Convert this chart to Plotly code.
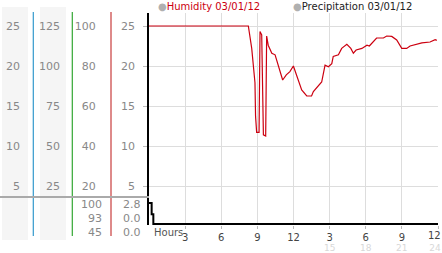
import plotly.graph_objects as go

# ---- data ----
hours = [0, 8.25, 8.53, 8.8, 8.85, 8.94, 9.14, 9.22, 9.36, 9.5, 9.69, 9.77, 9.9, 10.2,
         10.47, 10.74, 11.1, 11.4, 11.7, 11.99, 12.4, 12.68, 13.1, 13.5, 13.65, 14.06,
         14.34, 14.62, 14.9, 15.18, 15.3, 15.73, 16.0, 16.43, 16.76, 16.97, 17.2, 17.68,
         18.1, 18.3, 18.63, 18.9, 19.47, 19.74, 20.16, 20.57, 20.99, 21.4, 21.68, 21.96,
         22.66, 23.34, 23.76, 23.9]
humidity = [25, 25, 22.2, 17.9, 13.7, 11.7, 11.7, 24.3, 23.9, 11.4, 11.25, 23.75, 22.6, 21.6,
            21.4, 20.1, 18.25, 18.9, 19.3, 20.0, 18.25, 17.0, 16.25, 16.25, 16.8, 17.6,
            18.0, 20.1, 19.9, 20.3, 21.2, 21.4, 22.2, 22.7, 22.2, 21.6, 22.0, 22.2,
            22.6, 22.5, 23.0, 23.5, 23.5, 23.75, 23.7, 23.25, 22.2, 22.2, 22.5, 22.6,
            22.9, 23.0, 23.3, 23.2]
precip_hours = [0, 0.22, 0.36, 24]
precip = [2.8, 1.3, 0.0, 0.0]

x_tickvals = [3, 6, 9, 12, 15, 18, 21, 24]
x_ticktext = ["3", "6", "9", "12", "3", "6", "9", "12"]
x_second_vals = [15, 18, 21, 24]
x_second_text = ["15", "18", "21", "24"]
hum_ticks = [5, 10, 15, 20, 25]
col2_ticks = [25, 50, 75, 100, 125]
col3_ticks = [20, 40, 60, 80, 100]
low_col3 = ["100", "93", "45"]
low_col4 = ["2.8", "0.0", "0.0"]

W, H = 442, 253
T, B = 13, 28
PH = H - T - B  # paper height in px


def px(xp):
    return xp / W


def py(yp):
    return (H - B - yp) / PH


FONT = "DejaVu Sans"
top_dom = [py(197), 1]
hum_range = [3.625, 26.625]

fig = go.Figure()
fig.add_trace(go.Scatter(x=hours, y=humidity, mode="lines", line=dict(color="#cc0010", width=1.2),
                         xaxis="x", yaxis="y", showlegend=False, hoverinfo="skip"))
fig.add_trace(go.Scatter(x=precip_hours, y=precip, mode="lines", line=dict(color="#000000", width=2, shape="hv"),
                         xaxis="x", yaxis="y5", showlegend=False, hoverinfo="skip"))
# carrier traces so extra axes render
for ax in ["y2", "y3", "y4"]:
    fig.add_trace(go.Scatter(x=[None], y=[None], xaxis="x", yaxis=ax, showlegend=False, hoverinfo="skip"))

tickfont_y = dict(family=FONT, size=11, color="#888888")
xfont = dict(family=FONT, size=10, color="#444444")
x2font = dict(family=FONT, size=9, color="#d8d8d8")

shapes = []
for x0, x1 in [(2, 28), (40, 66)]:
    shapes.append(dict(type="rect", xref="paper", yref="paper", x0=px(x0), x1=px(x1), y0=py(240), y1=py(7),
                       fillcolor="#f5f5f5", line=dict(width=0), layer="below"))
for xl, col in [(33.3, "#3399cc"), (72.3, "#33a633"), (111, "#c83c3c")]:
    shapes.append(dict(type="line", xref="paper", yref="paper", x0=px(xl), x1=px(xl), y0=py(236), y1=py(12),
                       line=dict(color=col, width=1.2)))
shapes.append(dict(type="line", xref="paper", yref="paper", x0=0, x1=px(149), y0=py(197), y1=py(197),
                   line=dict(color="#aaaaaa", width=2)))

annotations = []
for i, (a, b) in enumerate(zip(low_col3, low_col4)):
    yy = py([204, 218, 232][i])
    annotations.append(dict(xref="paper", yref="paper", x=px(104), y=yy, text=a, showarrow=False,
                            xanchor="right", yanchor="middle", font=tickfont_y))
    annotations.append(dict(xref="paper", yref="paper", x=px(143), y=yy, text=b, showarrow=False,
                            xanchor="right", yanchor="middle", font=tickfont_y))
annotations.append(dict(xref="paper", yref="paper", x=px(152), y=py(232), text="Hours", showarrow=False,
                        xanchor="left", yanchor="middle", font=dict(family=FONT, size=10, color="#555555")))
for v, t in zip(x_second_vals, x_second_text):
    if v == 24:
        # last tick: primary and secondary label stacked in one block, kept inside the edge
        annotations.append(dict(xref="paper", yref="paper", x=1.0, y=py(241), showarrow=False,
                                text=("<span style='color:#444444;font-size:10px'>" + x_ticktext[-1] +
                                      "</span><br>" + t),
                                xanchor="right", yanchor="middle", align="right", borderpad=0,
                                font=x2font))
    else:
        annotations.append(dict(xref="x", yref="paper", x=v, y=py(247.5), text=t, showarrow=False,
                                xanchor="center", yanchor="middle", borderpad=0, font=x2font))
annotations.append(dict(xref="paper", yref="paper", x=px(156), y=py(6),
                        text="<span style='color:#b0b0b0'>●</span><span style='color:#cc0010'>Humidity 03/01/12</span>",
                        showarrow=False, xanchor="left", yanchor="middle", font=dict(family=FONT, size=10)))
annotations.append(dict(xref="paper", yref="paper", x=px(291), y=py(6),
                        text="<span style='color:#b0b0b0'>●</span><span style='color:#222222'>Precipitation 03/01/12</span>",
                        showarrow=False, xanchor="left", yanchor="middle", font=dict(family=FONT, size=10)))

fig.update_layout(
    width=W, height=H, margin=dict(l=0, r=0, t=T, b=B, pad=0),
    paper_bgcolor="white", plot_bgcolor="white",
    shapes=shapes, annotations=annotations,
    xaxis=dict(domain=[px(149), px(438)], range=[0, 24], anchor="y5",
               tickvals=x_tickvals, ticktext=x_ticktext[:-1] + [" "], ticks="outside", ticklen=3,
               tickcolor="#bbbbbb",
               showgrid=True, gridcolor="#dddddd", gridwidth=1, zeroline=False, showline=False,
               tickfont=xfont, automargin=False),
    yaxis=dict(domain=top_dom, range=hum_range, anchor="x", tickvals=hum_ticks,
               ticks="outside", ticklen=4, tickcolor="#bbbbbb", ticklabelstandoff=6,
               showgrid=True, gridcolor="#dddddd", zeroline=False,
               showline=True, linecolor="#000000", linewidth=1.5,
               tickfont=tickfont_y, automargin=False),
    yaxis2=dict(overlaying="y", anchor="free", position=px(33.3), range=hum_range, tickvals=hum_ticks,
                ticks="outside", ticklen=11, tickcolor="rgba(0,0,0,0)", showgrid=False, zeroline=False,
                showline=False, tickfont=tickfont_y, automargin=False),
    yaxis3=dict(overlaying="y", anchor="free", position=px(72.3), range=[v * 5 for v in hum_range],
                tickvals=col2_ticks, ticks="outside", ticklen=10, tickcolor="rgba(0,0,0,0)",
                showgrid=False, zeroline=False, showline=False, tickfont=tickfont_y, automargin=False),
    yaxis4=dict(overlaying="y", anchor="free", position=px(111), range=[v * 4 for v in hum_range],
                tickvals=col3_ticks, ticks="outside", ticklen=13, tickcolor="rgba(0,0,0,0)",
                showgrid=False, zeroline=False, showline=False, tickfont=tickfont_y, automargin=False),
    yaxis5=dict(domain=[0, py(197)], range=[-0.133, 3.6], anchor="x", showticklabels=False,
                showgrid=False, zeroline=False, showline=True, linecolor="#000000", linewidth=1.5,
                ticks="", automargin=False),
)

fig.write_html("out.html")
